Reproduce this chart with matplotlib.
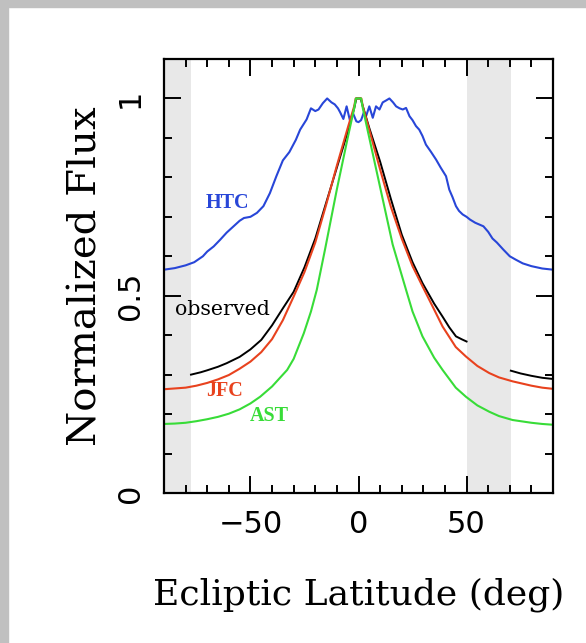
import numpy as np
import matplotlib
matplotlib.use('Agg')
import matplotlib.pyplot as plt
from matplotlib.patches import Rectangle
from matplotlib.ticker import MultipleLocator, FixedLocator

# HTC model (blue)
htc_x = [-90, -85, -80, -76, -72, -70, -67, -64, -61, -58, -55, -53, -50, -47, -44,
         -41, -38, -35, -32, -29, -27, -24, -22, -20, -18.5, -16.5, -14.5, -12.5,
         -11, -9.5, -8.5, -7, -5.5, -4, -2.5, -1, 0, 1.2, 2.5, 3.5, 5, 6.6, 8.1,
         9.7, 11.2, 12.8, 14.3, 16, 17.4, 19, 20.5, 22, 23.6, 25, 26.6, 28.1, 29.6,
         31.2, 33.5, 35.9, 38, 40.5, 42, 43.5, 45.1, 46.5, 48.2, 50, 51.6, 54,
         57.8, 60, 62, 64, 67, 70, 72.9, 76, 80, 85, 90]
htc_y = [0.566, 0.570, 0.577, 0.585, 0.600, 0.612, 0.625, 0.642, 0.660, 0.675,
         0.690, 0.697, 0.700, 0.710, 0.727, 0.760, 0.803, 0.843, 0.864, 0.895,
         0.921, 0.947, 0.975, 0.968, 0.972, 0.988, 1.000, 0.990, 0.985, 0.975,
         0.965, 0.948, 0.980, 0.945, 0.962, 0.942, 0.940, 0.945, 0.965, 0.955,
         0.980, 0.951, 0.980, 0.972, 0.990, 0.995, 1.000, 0.990, 0.980, 0.975,
         0.972, 0.976, 0.955, 0.945, 0.930, 0.921, 0.905, 0.883, 0.865, 0.845,
         0.825, 0.803, 0.769, 0.750, 0.727, 0.715, 0.706, 0.700, 0.693, 0.685,
         0.676, 0.662, 0.645, 0.635, 0.617, 0.600, 0.591, 0.582, 0.575, 0.569,
         0.566]

# observed profile (black), gaps where no data
obs_x = [-77.5, -73, -70, -65, -61, -55, -50, -45, -40, -35, -30, -25, -20, -15,
         -10, -5, -2, -1, 1, 2, 5, 10, 15, 20, 22.7, 25, 29.6, 35, 38.9, 42, 45.1,
         48, 50, 60, 70.5, 75, 80, 85, 90]
obs_y = [0.300, 0.306, 0.311, 0.320, 0.329, 0.345, 0.364, 0.388, 0.425, 0.468,
         0.510, 0.572, 0.645, 0.735, 0.825, 0.915, 0.975, 1.000, 1.000, 0.980,
         0.925, 0.840, 0.745, 0.655, 0.617, 0.585, 0.532, 0.480, 0.447, 0.420,
         0.397, 0.389, 0.384, np.nan, 0.310, 0.303, 0.297, 0.292, 0.289]

# JFC model (red)
jfc_x = [-90, -85, -80, -75, -70, -65, -60, -55, -50, -45, -40, -35, -30, -25,
         -20, -15, -10, -5, -2, -1.3, 1.3, 2, 5, 10, 15, 20, 22, 25, 29.6, 35,
         38.9, 45, 49.7, 55, 60.5, 65, 71.3, 80, 85, 90]
jfc_y = [0.263, 0.265, 0.267, 0.272, 0.279, 0.288, 0.299, 0.315, 0.333, 0.357,
         0.390, 0.438, 0.498, 0.560, 0.635, 0.730, 0.830, 0.925, 0.980, 1.000,
         1.000, 0.980, 0.920, 0.820, 0.725, 0.645, 0.617, 0.575, 0.524, 0.465,
         0.422, 0.370, 0.346, 0.322, 0.304, 0.293, 0.283, 0.272, 0.267, 0.264]

# AST model (green)
ast_x = [-90, -85, -80, -75, -70, -65, -60, -55, -50, -45.5, -40, -35, -33, -30,
         -25.3, -22, -19.3, -15.5, -10, -5, -2, -1.2, 1.2, 2, 5, 10, 15.8, 22,
         25, 29.6, 35, 38.9, 45, 49.7, 55, 60.5, 65, 71.3, 80, 85, 90]
ast_y = [0.175, 0.176, 0.178, 0.182, 0.187, 0.193, 0.201, 0.212, 0.227, 0.244,
         0.270, 0.300, 0.312, 0.340, 0.405, 0.460, 0.515, 0.617, 0.770, 0.900,
         0.975, 1.000, 1.000, 0.975, 0.900, 0.775, 0.630, 0.515, 0.460, 0.397,
         0.343, 0.312, 0.267, 0.244, 0.222, 0.206, 0.195, 0.185, 0.178, 0.175,
         0.173]

# latitude ranges with no observations
gaps = [(-90, -77.5), (50, 70.5)]

blue, red, green = '#2846d8', '#e8421e', '#38dc38'

fig = plt.figure(figsize=(5.86, 6.43), dpi=100)
fig.patches.append(Rectangle((0, 1 - 7 / 643), 1, 7 / 643, transform=fig.transFigure,
                             color='#c0c0c0', zorder=0))
fig.patches.append(Rectangle((0, 0), 8 / 586, 1, transform=fig.transFigure,
                             color='#c0c0c0', zorder=0))
ax = fig.add_axes([164 / 586, 150 / 643, 389 / 586, 434 / 643])

for a, b in gaps:
    ax.axvspan(a, b, color='#e8e8e8', lw=0, zorder=0)

ax.plot(htc_x, htc_y, color=blue, lw=1.5)
ax.plot(obs_x, obs_y, color='black', lw=1.4)
ax.plot(jfc_x, jfc_y, color=red, lw=1.5)
ax.plot(ast_x, ast_y, color=green, lw=1.5)

ax.set_xlim(-90, 90)
ax.set_ylim(0, 1.1)

ax.xaxis.set_major_locator(FixedLocator([-50, 0, 50]))
ax.xaxis.set_minor_locator(MultipleLocator(10))
ax.yaxis.set_major_locator(FixedLocator([0, 0.5, 1]))
ax.yaxis.set_minor_locator(MultipleLocator(0.1))
ax.set_xticklabels(['\u221250', '0', '50'])
ax.set_yticklabels(['0', '0.5', '1'], rotation=90, va='center')

ax.tick_params(which='both', direction='in', top=True, right=True, width=1.4)
ax.tick_params(which='major', length=12)
ax.tick_params(which='minor', length=5.8)
ax.tick_params(axis='x', which='major', labelsize=22, pad=12)
ax.tick_params(axis='y', which='major', labelsize=22, pad=14)
for lab in ax.get_xticklabels() + ax.get_yticklabels():
    lab.set_family('DejaVu Sans')
for s in ax.spines.values():
    s.set_linewidth(1.6)

ax.set_xlabel('Ecliptic Latitude (deg)', family='DejaVu Serif', fontsize=26,
              labelpad=28)
ax.set_ylabel('Normalized Flux', family='DejaVu Serif', fontsize=29, labelpad=8)

ax.text(-60.4, 0.736, 'HTC', color=blue, family='Liberation Serif', weight='bold',
        fontsize=14.5, ha='center', va='center')
ax.text(-84.9, 0.464, 'observed', color='black', family='DejaVu Serif',
        fontsize=14.8, ha='left', va='center')
ax.text(-61.9, 0.259, 'JFC', color=red, family='Liberation Serif', weight='bold',
        fontsize=14.5, ha='center', va='center')
ax.text(-41.2, 0.195, 'AST', color=green, family='Liberation Serif', weight='bold',
        fontsize=14.5, ha='center', va='center')

fig.savefig('out.png', dpi=100)
